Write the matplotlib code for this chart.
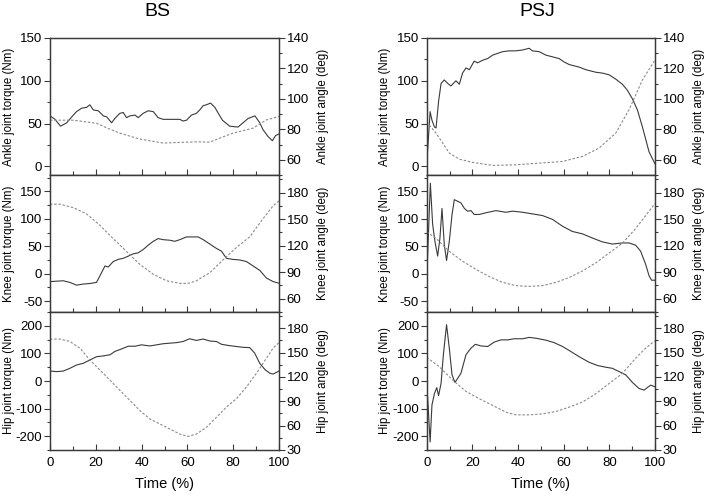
import matplotlib
matplotlib.use("Agg")
import matplotlib.pyplot as plt
from matplotlib.ticker import MultipleLocator

plt.rcParams['font.family'] = ['Liberation Sans', 'DejaVu Sans']
plt.rcParams['axes.unicode_minus'] = False

# ---------------- BS ----------------
bs_ankle_torque_t = [0, 2.2, 4.6, 7.3, 10.2, 11.6, 13.8, 16.0, 17.4, 18.9, 21.1, 23.3, 24.7, 26.9, 28.3,
                     30.5, 32.0, 33.4, 34.9, 37.1, 38.5, 40.7, 42.9, 45.1, 47.2, 49.4, 53.8, 56.7, 58.1,
                     59.6, 61.8, 63.9, 65.4, 66.9, 68.3, 70.1, 72.0, 73.5, 75.3, 78.5, 82.1, 84.3, 86.5,
                     89.5, 91.6, 93.0, 95.2, 97.1, 98.5, 100]
bs_ankle_torque = [59, 55, 47, 51, 60, 64, 68, 69, 72, 66, 65, 59, 58, 51, 56,
                   62, 63, 57, 59, 60, 57, 62, 65, 64, 57, 55, 55, 55, 53,
                   54, 60, 62, 66, 71, 72, 74, 69, 62, 54, 47, 46, 51, 56,
                   59, 51, 43, 35, 30, 36, 38]
bs_ankle_angle_t = [0, 10.2, 20.3, 24.7, 30.5, 39.2, 49.4, 56.7, 63.9, 69.8, 74.1, 79.9, 88.7, 94.5, 100]
bs_ankle_angle = [86, 86, 84, 81, 77.5, 73.6, 71, 71.4, 71.8, 71.6, 74.2, 77.5, 80.8, 86.2, 88.4]

bs_knee_torque_t = [0, 5.8, 8.7, 11.6, 14.5, 17.4, 20.3, 21.8, 24.0, 25.4, 27.6, 29.8, 32.0, 34.2, 36.3,
                    38.5, 40.7, 42.9, 45.1, 47.2, 49.4, 52.3, 54.5, 56.7, 59.6, 62.5, 64.7, 66.9, 69.8,
                    72.7, 74.9, 77.0, 79.9, 82.8, 85.8, 88.7, 91.6, 94.5, 97.4, 100]
bs_knee_torque = [-14.5, -13, -16, -21, -19, -18, -16, -4, 14, 12, 22, 26, 28, 32, 36,
                  38, 44, 52, 59, 64, 62, 61, 59, 62, 67, 67, 67, 62, 54,
                  46, 41, 28, 26, 25, 22, 14, 6, -8, -14.5, -17.5]
bs_knee_angle_t = [0, 4.4, 10.2, 16.0, 21.8, 27.6, 33.4, 39.2, 45.1, 50.9, 56.7, 60.3, 63.9, 69.8,
                   75.6, 81.4, 87.2, 93.0, 97.4, 100]
bs_knee_angle = [167, 167, 163, 156, 143, 128, 113.5, 99, 87.7, 80.3, 77.4, 77.4, 80.3, 89.5,
                 104, 118, 130, 150.5, 165, 171]

bs_hip_torque_t = [0, 2.9, 5.8, 8.7, 11.6, 14.5, 17.4, 20.3, 23.3, 26.2, 28.3, 31.2, 34.2, 37.1, 39.9,
                   43.6, 46.5, 49.4, 52.3, 55.2, 58.1, 61.0, 63.9, 66.9, 69.8, 72.7, 74.9, 78.5, 81.4,
                   84.3, 87.2, 89.4, 91.6, 93.8, 96.0, 97.4, 100]
bs_hip_torque = [36, 34, 36, 46, 58, 64, 76, 88, 91, 95, 107, 116, 126, 126, 131,
                 127, 131, 135, 137, 139, 143, 153, 147, 152, 145, 143, 133, 128, 125,
                 122, 121, 101, 64, 42, 28, 25, 36]
bs_hip_angle_t = [0, 4.4, 8.7, 13.1, 17.4, 21.8, 26.2, 30.5, 34.9, 39.2, 43.6, 47.9, 52.3, 56.7, 60.3,
                  63.9, 68.3, 72.7, 77.0, 81.4, 85.8, 90.1, 94.5, 97.4, 100]
bs_hip_angle = [166.6, 166.6, 163.7, 155.4, 140.9, 128.5, 116, 103.6, 91.1, 78.7, 68.3, 62.1, 55.9, 49.6, 46.7,
                49.6, 57.9, 70.4, 82.8, 93.2, 107.7, 124.3, 143, 155.4, 162.5]

# ---------------- PSJ ----------------
psj_ankle_torque_t = [0, 1.5, 2.3, 3.4, 4.1, 5.2, 6.3, 7.7, 9.2, 10.6, 12.8, 14.3, 15.7, 17.2, 18.7,
                      20.8, 22.3, 24.5, 26.7, 28.9, 31.0, 33.2, 36.2, 39.0, 42.0, 44.9, 46.3, 49.3, 52.2,
                      55.1, 58.0, 60.2, 62.4, 66.8, 69.7, 74.1, 77.0, 79.9, 82.8, 85.7, 87.9, 90.1, 92.3,
                      94.5, 97.4, 100]
psj_ankle_torque = [2, 64, 54, 46, 45, 76, 97, 101, 97, 94, 100, 96, 109, 115, 113,
                    123, 121, 124, 126, 130, 132, 134, 135, 135, 136, 138, 135, 134, 130,
                    128, 126, 122, 119, 116, 113, 110, 109, 107, 102, 96, 89, 79, 66,
                    46, 17, 3]
psj_ankle_angle_t = [0, 4.1, 7.0, 9.9, 14.3, 20.1, 28.9, 39.1, 49.3, 59.5, 68.2, 75.5, 82.8, 88.6, 94.5, 100]
psj_ankle_angle = [85, 77.5, 71, 64.4, 60.4, 58.3, 56.3, 56.7, 57.8, 58.9, 62.2, 67.7, 77.5, 92.8, 112.5, 125.6]

psj_knee_torque_t = [0, 0.7, 1.6, 2.6, 3.6, 4.8, 5.8, 6.7, 7.7, 8.7, 9.9, 11.1, 12.1, 13.6, 15.0,
                     16.5, 17.9, 19.4, 20.8, 23.0, 25.9, 30.3, 34.7, 37.6, 42.0, 46.4, 50.7, 55.1, 59.5,
                     63.8, 68.2, 72.6, 76.9, 81.3, 85.7, 88.6, 91.5, 93.7, 95.9, 97.4, 98.5, 100]
psj_knee_torque = [-13, 65, 165, 90, 59, 32, 65, 119, 53, 24, 59, 108, 135, 132, 129,
                   119, 114, 115, 108, 108, 111, 115, 112, 114, 112, 109, 106, 99, 86.5,
                   77, 72.6, 65, 58, 54, 56, 56, 52, 41, 17, -4, -12, -12]
psj_knee_angle_t = [0, 4.1, 9.9, 15.7, 21.6, 27.4, 33.2, 39.1, 44.9, 50.7, 56.6, 62.4, 68.2, 74.1,
                    79.9, 85.7, 91.5, 95.9, 100]
psj_knee_angle = [135.7, 128.3, 113.5, 102.5, 93.2, 85.1, 78.5, 74.8, 74, 74.8, 78.5, 84, 91.4, 100.6,
                  111.7, 122.8, 139.4, 154, 167.8]

psj_hip_torque_t = [0, 0.6, 1.5, 2.3, 3.4, 4.4, 5.2, 6.3, 7.3, 8.7, 9.9, 11.1, 12.4, 13.6, 15.0,
                    17.2, 19.4, 21.3, 23.8, 26.7, 29.6, 32.5, 35.4, 38.3, 42.0, 44.9, 47.8, 52.2, 55.8,
                    59.5, 63.1, 66.8, 71.1, 74.8, 78.4, 81.3, 84.3, 87.2, 90.1, 93.0, 95.2, 97.1, 98.1, 100]
psj_hip_torque = [0, -87, -221, -87, -45, -24, -53, -8, 95, 204, 119, 22, -5, 10, 28,
                  95, 119, 133, 127, 125, 141, 149, 149, 153, 153, 158, 155, 148, 139,
                  125, 107, 88, 68, 56, 50, 46, 34, 22, -5, -27, -33, -21, -15, -21]
psj_hip_angle_t = [0, 5.5, 11.4, 17.2, 23.0, 28.9, 34.7, 39.1, 44.9, 50.7, 56.6, 62.4, 68.2, 74.1,
                   79.9, 85.7, 91.5, 95.9, 100]
psj_hip_angle = [144.2, 132.6, 116, 102.3, 93.2, 84.9, 76.6, 73.3, 73.3, 74.5, 77.4, 82.8, 89, 99.4,
                 111.9, 124.3, 143, 155.4, 164.6]

titles = ["BS", "PSJ"]
x_ticks = [0, 20, 40, 60, 80, 100]
torque_labels = ["Ankle joint torque (Nm)", "Knee joint torque (Nm)", "Hip joint torque (Nm)"]
angle_labels = ["Ankle joint angle (deg)", "Knee joint angle (deg)", "Hip joint angle (deg)"]

data = [
    [(bs_ankle_torque_t, bs_ankle_torque, bs_ankle_angle_t, bs_ankle_angle),
     (bs_knee_torque_t, bs_knee_torque, bs_knee_angle_t, bs_knee_angle),
     (bs_hip_torque_t, bs_hip_torque, bs_hip_angle_t, bs_hip_angle)],
    [(psj_ankle_torque_t, psj_ankle_torque, psj_ankle_angle_t, psj_ankle_angle),
     (psj_knee_torque_t, psj_knee_torque, psj_knee_angle_t, psj_knee_angle),
     (psj_hip_torque_t, psj_hip_torque, psj_hip_angle_t, psj_hip_angle)],
]

torque_lims = [(-10, 150), (-70, 180), (-250, 250)]
torque_minor = [25, 25, 50]
torque_ticks = [[0, 50, 100, 150], [-50, 0, 50, 100, 150], [-200, -100, 0, 100, 200]]
angle_lims = [(50, 140), (45, 200), (30, 200)]
angle_ticks = [[60, 80, 100, 120, 140], [60, 90, 120, 150, 180], [30, 60, 90, 120, 150, 180]]
angle_minor = [10, 15, 15]

W, H = 708, 497
fig = plt.figure(figsize=(W / 100, H / 100), dpi=100)

col_left = [50, 426.7]
col_width = [229, 228.3]
row_top = [38, 175, 312]
row_h = [137, 137, 138]

dark = '#3a3a3a'
dash_col = '#8a8a8a'
tick_fs = 9.5
lab_fs = 8.3

for c in range(2):
    for r in range(3):
        l = col_left[c] / W
        b = 1 - (row_top[r] + row_h[r]) / H
        ax = fig.add_axes([l, b, col_width[c] / W, row_h[r] / H])
        tt, tq, at, an = data[c][r]
        ax.plot(tt, tq, color=dark, lw=0.8)
        ax.set_xlim(0, 100)
        ax.set_ylim(*torque_lims[r])
        ax.set_yticks(torque_ticks[r])
        ax.yaxis.set_minor_locator(MultipleLocator(torque_minor[r]))
        ax.set_xticks(x_ticks)
        ax.xaxis.set_minor_locator(MultipleLocator(10))
        ax.tick_params(axis='x', which='both', direction='in', top=False, length=4, width=0.8,
                       colors=dark, labelsize=tick_fs, pad=5)
        ax.tick_params(axis='x', which='minor', length=3)
        ax.tick_params(axis='y', which='major', direction='out', length=4, width=0.8,
                       colors=dark, labelsize=tick_fs, pad=1.5, labelcolor='black')
        ax.tick_params(axis='y', which='minor', direction='out', length=2, width=0.8, colors=dark)
        ax.tick_params(axis='x', labelcolor='black')
        if r < 2:
            ax.tick_params(axis='x', labelbottom=False)
        for s in ax.spines.values():
            s.set_color(dark)
            s.set_linewidth(0.9)
        ax.set_ylabel(torque_labels[r], fontsize=lab_fs)
        ax.yaxis.set_label_coords(-0.155, 0.5)

        ax2 = ax.twinx()
        ax2.plot(at, an, color=dash_col, lw=0.8, linestyle=(0, (2.2, 1.6)))
        ax2.set_ylim(*angle_lims[r])
        ax2.set_yticks(angle_ticks[r])
        ax2.yaxis.set_minor_locator(MultipleLocator(angle_minor[r]))
        ax2.tick_params(axis='y', which='major', direction='out', length=4, width=0.8,
                        colors=dark, labelsize=tick_fs, pad=1.5, labelcolor='black')
        ax2.tick_params(axis='y', which='minor', direction='out', length=2, width=0.8, colors=dark)
        for s in ax2.spines.values():
            s.set_color(dark)
            s.set_linewidth(0.9)
        ax2.set_ylabel(angle_labels[r], fontsize=lab_fs)
        ax2.yaxis.set_label_coords(1.165, 0.5)

    fig.text((col_left[c] + (0.467 if c == 0 else 0.483) * col_width[c]) / W, 1 - 12 / H,
             titles[c], fontsize=14, ha='center', va='center')
    fig.text((col_left[c] + 0.5 * col_width[c]) / W, 1 - 484 / H, "Time (%)",
             fontsize=10.5, ha='center', va='center')

fig.savefig("out.png", dpi=100)
